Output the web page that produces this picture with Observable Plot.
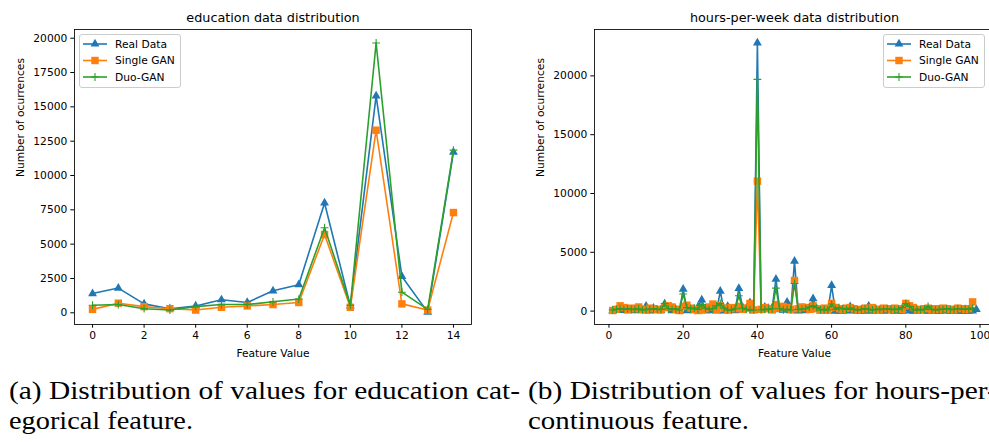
<!DOCTYPE html>
<html><head><meta charset="utf-8">
<script src="https://cdn.jsdelivr.net/npm/d3@7"></script>
<script src="https://cdn.jsdelivr.net/npm/@observablehq/plot@0.6"></script>
<style>
html,body{margin:0;padding:0;background:#fff;}
#wrap{position:relative;width:989px;height:442px;overflow:hidden;background:#fff;}
.panel{position:absolute;top:0;}
.leg{position:absolute;overflow:visible;}
#cap{position:absolute;left:0;top:0;}
</style></head><body><div id="wrap"></div>
<script>
// ---------- data ----------
const seriesNames = ["Real Data", "Single GAN", "Duo-GAN"];
const seriesColors = ["#1f77b4", "#ff7f0e", "#2ca02c"];

const eduX = [0,1,2,3,4,5,6,7,8,9,10,11,12,13,14];
const eduReal   = [1400,1800,650,300,500,950,750,1600,2050,8000,500,15800,2650,50,11700];
const eduSingle = [250,700,450,300,200,400,500,600,750,5700,400,13300,650,200,7300];
const eduDuo    = [550,600,300,200,450,600,600,800,1000,6200,550,19650,1500,250,11850];
const eduXTicks = [0,2,4,6,8,10,12,14];
const eduYTicks = [0,2500,5000,7500,10000,12500,15000,17500,20000];

const hoursX = [1,2,3,4,5,6,7,8,9,10,11,12,13,14,15,16,17,18,19,20,21,22,23,24,25,26,27,28,29,30,
  31,32,33,34,35,36,37,38,39,40,41,42,43,44,45,46,47,48,49,50,51,52,53,54,55,56,57,58,59,60,
  61,62,63,64,65,66,67,68,69,70,71,72,73,74,75,76,77,78,79,80,81,82,83,84,85,86,87,88,89,90,
  91,92,93,94,95,96,97,98,99];
const hoursReal = [27,53,59,84,60,92,45,203,28,425,18,256,38,55,608,300,44,112,22,1862,
  35,63,35,359,958,45,42,125,11,1700,8,394,59,41,1937,339,224,714,58,22803,
  52,340,227,302,2717,117,72,770,41,4246,20,201,37,58,1051,140,25,42,8,2177,
  3,25,15,21,375,25,6,15,2,432,2,103,4,1,95,5,8,12,1,197,
  5,2,1,67,21,3,1,4,3,42,5,2,1,2,3,9,3,17,137];
const hoursSingle = [50,150,450,300,100,250,200,350,150,100,250,200,150,100,300,450,350,150,50,400,
  500,250,150,50,100,200,350,600,150,450,250,100,300,200,400,150,250,650,100,11050,
  150,300,200,100,550,250,400,300,150,2600,200,350,300,150,450,200,100,250,150,650,
  300,200,150,250,300,200,100,150,250,200,300,150,100,250,200,150,250,200,150,650,
  450,300,100,150,200,250,100,200,150,250,200,150,100,250,200,150,200,780];
const hoursDuo = [100,150,200,150,200,150,150,200,100,150,150,200,150,150,650,200,150,200,100,1450,
  300,200,250,150,550,250,150,200,450,650,250,100,100,200,1300,250,150,100,100,19700,
  100,150,150,200,1950,200,100,150,100,2350,150,150,200,350,450,300,100,150,100,600,
  150,300,200,150,250,150,100,150,200,150,100,150,150,150,200,150,150,150,300,650,
  400,100,150,100,150,400,150,100,150,150,200,150,150,200,150,200,150,250];
const hoursXTicks = [0,20,40,60,80,100];
const hoursYTicks = [0,5000,10000,15000,20000];

const titles = ["education data distribution", "hours-per-week data distribution"];
const xLabel = "Feature Value";
const yLabel = "Number of ocurrences";
const captionA = ["(a) Distribution of values for education cat-", "egorical feature."];
const captionB = ["(b) Distribution of values for hours-per-week", "continuous feature."];

// ---------- symbols ----------
const plusSymbol = {
  draw(ctx, size) {
    const r = Math.sqrt(size / Math.PI);
    ctx.moveTo(-r, 0); ctx.lineTo(r, 0);
    ctx.moveTo(0, -r); ctx.lineTo(0, r);
  }
};
const markerSpec = [
  {symbol: "triangle", r: 3.3, fill: true},
  {symbol: "square", r: 4.2, fill: true},
  {symbol: plusSymbol, r: 3.9, fill: false}
];

function makePanel(xs, ysList, opts) {
  const marks = [];
  ysList.forEach((ys, k) => {
    const rows = ys.map((v, i) => ({x: xs[i], y: v}));
    const c = seriesColors[k];
    const m = markerSpec[k];
    marks.push(Plot.line(rows, {x: "x", y: "y", stroke: c, strokeWidth: 1.6}));
    marks.push(Plot.dot(rows, m.fill
      ? {x: "x", y: "y", symbol: m.symbol, r: m.r, fill: c, stroke: "none"}
      : {x: "x", y: "y", symbol: m.symbol, r: m.r, fill: "none", stroke: c, strokeWidth: 1.1}));
  });
  marks.push(Plot.frame({stroke: "#000", strokeWidth: 0.85}));
  marks.push(Plot.text([opts.title], {text: d => d, frameAnchor: "top", dy: -11.5, lineAnchor: "middle", fontSize: 12.8, fill: "#000"}));
  marks.push(Plot.text([xLabel], {text: d => d, frameAnchor: "bottom", dy: 28.7, lineAnchor: "middle", fill: "#000"}));
  marks.push(Plot.text([yLabel], {text: d => d, frameAnchor: "left", dx: -54, rotate: -90, lineAnchor: "middle", fill: "#000"}));
  return Plot.plot({
    width: opts.width, height: 370,
    marginLeft: opts.marginLeft, marginRight: opts.marginRight, marginTop: 29, marginBottom: 46,
    style: {fontFamily: "DejaVu Sans", fontSize: "10.7px", color: "#000", background: "transparent", overflow: "visible"},
    x: {domain: opts.xDomain, ticks: opts.xTicks, tickSize: 3.7, tickPadding: 3.5, tickFormat: d3.format("d"), label: null},
    y: {domain: opts.yDomain, ticks: opts.yTicks, tickSize: 3.7, tickPadding: 3.5, tickFormat: d3.format("d"), label: null},
    marks
  });
}

const wrap = document.getElementById("wrap");

const left = makePanel(eduX, [eduReal, eduSingle, eduDuo], {
  title: titles[0], width: 495, marginLeft: 74, marginRight: 24,
  xDomain: [-0.7, 14.7], yDomain: [-852, 20634], xTicks: eduXTicks, yTicks: eduYTicks
});
left.classList.add("panel"); left.style.left = "0px";
wrap.appendChild(left);

const right = makePanel(hoursX, [hoursReal, hoursSingle, hoursDuo], {
  title: titles[1], width: 500, marginLeft: 94, marginRight: 6,
  xDomain: [-3.9, 103.9], yDomain: [-1139, 23943], xTicks: hoursXTicks, yTicks: hoursYTicks
});
right.classList.add("panel"); right.style.left = "500px";
wrap.appendChild(right);

// ---------- legends ----------
const NS = "http://www.w3.org/2000/svg";
function legend(x, y) {
  const w = 102, h = 54;
  const svg = document.createElementNS(NS, "svg");
  svg.setAttribute("class", "leg");
  svg.setAttribute("width", w + 2); svg.setAttribute("height", h + 2);
  svg.style.left = (x - 1) + "px"; svg.style.top = (y - 1) + "px";
  let s = `<rect x="1.5" y="1.5" width="${w - 1}" height="${h - 1}" rx="2.5" fill="rgba(255,255,255,0.8)" stroke="#cccccc" stroke-width="1"/>`;
  const rowsY = [11, 27.5, 44];
  seriesNames.forEach((name, k) => {
    const c = seriesColors[k], m = markerSpec[k];
    const yy = rowsY[k];
    const type = typeof m.symbol === "string" ? (m.symbol === "triangle" ? d3.symbolTriangle : d3.symbolSquare) : m.symbol;
    const p = d3.symbol(type, Math.PI * m.r * m.r)();
    s += `<line x1="5" x2="29" y1="${yy}" y2="${yy}" stroke="${c}" stroke-width="1.6"/>`;
    s += m.fill
      ? `<path d="${p}" transform="translate(17,${yy})" fill="${c}"/>`
      : `<path d="${p}" transform="translate(17,${yy})" fill="none" stroke="${c}" stroke-width="1.1"/>`;
    s += `<text x="37" y="${yy}" dy="0.36em" font-family="DejaVu Sans" font-size="10.7" fill="#000">${name}</text>`;
  });
  svg.innerHTML = s;
  wrap.appendChild(svg);
}
legend(79, 34);
legend(883, 34);

// ---------- captions ----------
const cap = document.createElementNS(NS, "svg");
cap.setAttribute("id", "cap");
cap.setAttribute("width", 989); cap.setAttribute("height", 442);
wrap.appendChild(cap);
function capText(str, x, y) {
  const t = document.createElementNS(NS, "text");
  t.setAttribute("x", x); t.setAttribute("y", y);
  t.setAttribute("font-family", "Liberation Serif");
  t.setAttribute("font-size", "25.5");
  t.setAttribute("fill", "#000");
  t.textContent = str;
  cap.appendChild(t);
  return t;
}
const a1 = capText(captionA[0], 9, 398.5);
const a2 = capText(captionA[1], 9, 428.5);
const b1 = capText(captionB[0], 528, 398.5);
const b2 = capText(captionB[1], 528, 428.5);
const k = 511 / a1.getComputedTextLength();
[[a1, 511], [a2, 184], [b2, 221], [b1, b1.getComputedTextLength() * k]].forEach(([t, L]) => {
  t.setAttribute("textLength", L);
  t.setAttribute("lengthAdjust", "spacingAndGlyphs");
});
</script>
</body></html>
